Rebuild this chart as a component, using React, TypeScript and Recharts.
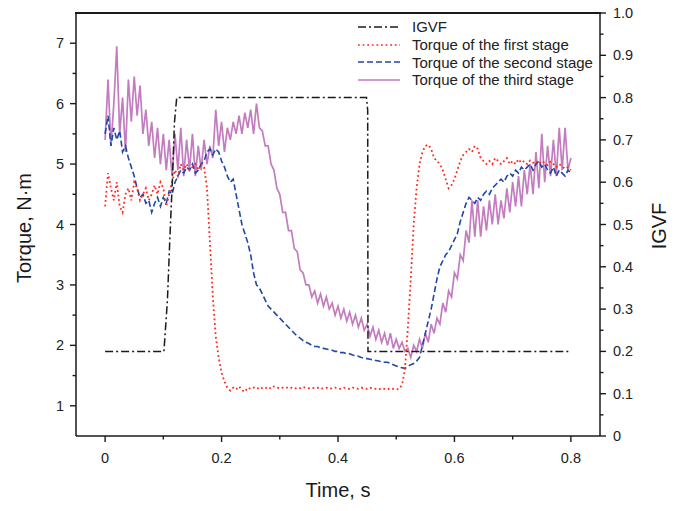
import React from "react";
import { LineChart, Line, XAxis, YAxis } from "recharts";

// time grid, 5 ms step
const time = Array.from({ length: 161 }, (_, i) => Math.round(i * 5) / 1000);

const firstStage = [
  4.3, 4.85, 4.6, 4.4, 4.7, 4.3, 4.2, 4.5, 4.6, 4.4,
  4.7, 4.6, 4.4, 4.5, 4.6, 4.4, 4.5, 4.65, 4.5, 4.7,
  4.6, 4.3, 4.5, 4.7, 4.9, 4.8, 5.0, 4.9, 5.0, 4.9,
  4.95, 5.0, 4.9, 5.0, 4.95, 4.6, 3.7, 2.8, 2.15, 1.8,
  1.55, 1.4, 1.3, 1.25, 1.3, 1.27, 1.32, 1.26, 1.23, 1.3,
  1.28, 1.3, 1.31, 1.27, 1.3, 1.29, 1.31, 1.28, 1.32, 1.3,
  1.29, 1.3, 1.31, 1.29, 1.3, 1.28, 1.3, 1.29, 1.31, 1.3,
  1.29, 1.3, 1.29, 1.3, 1.28, 1.29, 1.3, 1.28, 1.29, 1.3,
  1.29, 1.28, 1.3, 1.29, 1.28, 1.3, 1.29, 1.28, 1.3, 1.29,
  1.28, 1.3, 1.29, 1.28, 1.27, 1.29, 1.28, 1.27, 1.29, 1.28,
  1.27, 1.28, 1.35, 1.6, 2.3, 3.1, 4.0, 4.6, 5.0, 5.2,
  5.3, 5.32, 5.25, 5.1, 5.05, 5.0, 4.9, 4.75, 4.6, 4.65,
  4.75, 4.9, 5.05, 5.15, 5.2, 5.25, 5.2, 5.3, 5.25, 5.1,
  5.05, 5.0, 5.05, 5.0, 5.1, 5.05, 5.0, 5.05, 5.1, 5.0,
  5.05, 5.0, 5.08, 5.02, 5.05, 5.0, 5.06, 5.02, 5.05, 5.0,
  5.05, 5.02, 4.98, 5.04, 5.0, 4.95, 5.0, 4.96, 4.92, 4.95,
  4.9,
];

const secondStage = [
  5.5, 5.8, 5.3, 5.6, 5.4, 5.55, 5.2, 5.3, 5.1, 4.95,
  4.8, 4.6, 4.45, 4.5, 4.35, 4.4, 4.2, 4.35, 4.45, 4.3,
  4.45, 4.35, 4.55, 4.5, 4.7, 4.8, 4.9, 4.85, 4.95, 4.9,
  5.0, 4.85, 4.9, 5.0, 5.05, 5.2, 5.25, 5.15, 5.25, 5.2,
  5.05, 4.95, 4.8, 4.7, 4.75, 4.5, 4.25, 4.0, 3.85, 3.7,
  3.5, 3.2, 3.0, 2.95, 2.85, 2.75, 2.65, 2.6, 2.55, 2.5,
  2.45, 2.4, 2.35, 2.3, 2.25, 2.2, 2.15, 2.12, 2.08, 2.05,
  2.03, 2.0, 1.98, 1.98, 1.96, 1.95, 1.94, 1.93, 1.92, 1.9,
  1.9, 1.88, 1.88, 1.86, 1.86, 1.84, 1.83, 1.82, 1.8, 1.79,
  1.78, 1.77, 1.76, 1.75, 1.74, 1.73, 1.72, 1.72, 1.7, 1.68,
  1.66, 1.64, 1.63, 1.62, 1.65, 1.68, 1.7, 1.74, 1.8, 2.0,
  2.2, 2.4, 2.6, 2.85, 3.1, 3.3, 3.4, 3.5, 3.55, 3.65,
  3.75, 3.85, 4.05, 4.2, 4.35, 4.45, 4.4, 4.35, 4.45, 4.4,
  4.5, 4.55, 4.5, 4.6, 4.65, 4.7, 4.75, 4.7, 4.8, 4.85,
  4.8, 4.9, 4.85, 4.95, 4.9, 4.95, 5.0, 4.9, 5.0, 5.05,
  4.95, 5.0, 4.9, 4.85, 4.95, 4.8, 4.9, 4.85, 4.8, 4.9,
  4.85,
];

const thirdStage = [
  5.4, 6.4, 5.3, 6.0, 6.95, 5.5, 6.1, 5.2, 6.4, 5.7,
  6.45, 5.8, 6.3, 5.5, 5.9, 5.3, 5.7, 5.1, 5.6, 5.0,
  5.5, 4.9, 5.4, 4.8, 5.5, 4.9, 5.6, 4.8, 5.4, 4.9,
  5.5, 4.8, 5.3, 4.9, 5.4, 5.0, 5.3, 5.1, 5.9, 5.3,
  5.7, 5.2, 5.6, 5.4, 5.7, 5.5, 5.8, 5.5, 5.85, 5.6,
  5.9, 5.5, 6.0, 5.6, 5.55, 5.3, 5.3, 5.0, 4.9, 4.6,
  4.5, 4.2, 4.2, 3.9, 3.9, 3.6, 3.55, 3.25, 3.2, 3.0,
  3.0, 2.8, 2.9, 2.7, 2.85, 2.65, 2.8, 2.6, 2.7, 2.5,
  2.65, 2.45, 2.6, 2.4, 2.55, 2.35, 2.5, 2.3, 2.45, 2.25,
  2.35, 2.15, 2.3, 2.1, 2.25, 2.05, 2.2, 2.0, 2.2, 1.95,
  2.1, 1.95, 2.05, 1.9, 1.95, 1.8, 2.0, 1.9, 2.1, 1.95,
  2.2, 2.05, 2.35, 2.2, 2.45, 2.35, 2.7, 2.55, 2.9, 2.8,
  3.2, 3.1, 3.5, 3.4, 3.9, 3.7, 4.4, 3.8, 4.4, 3.8,
  4.3, 3.9, 4.4, 4.0, 4.5, 4.0, 4.4, 4.1, 4.6, 4.2,
  4.7, 4.3, 4.8, 4.3, 4.9, 4.5, 5.0, 4.5, 5.2, 4.6,
  5.5, 4.7, 5.3, 4.8, 5.4, 4.8, 5.6, 4.9, 5.6, 4.9,
  5.1,
];

const igvfTime = [0, 0.101, 0.107, 0.111, 0.116, 0.119, 0.123, 0.449, 0.451, 0.4515, 0.8];
const igvfValue = [0.2, 0.2, 0.32, 0.46, 0.62, 0.74, 0.8, 0.8, 0.77, 0.2, 0.2];

const xTicks = [0, 0.1, 0.2, 0.3, 0.4, 0.5, 0.6, 0.7, 0.8];
const torqueTicks = [1, 1.5, 2, 2.5, 3, 3.5, 4, 4.5, 5, 5.5, 6, 6.5, 7];
const igvfTicks = [
  0, 0.05, 0.1, 0.15, 0.2, 0.25, 0.3, 0.35, 0.4, 0.45, 0.5,
  0.55, 0.6, 0.65, 0.7, 0.75, 0.8, 0.85, 0.9, 0.95, 1.0,
];

const torqueData = time.map((t, i) => ({
  t,
  first: firstStage[i],
  second: secondStage[i],
  third: thirdStage[i],
}));
const igvfData = igvfTime.map((t, i) => ({ t, igvf: igvfValue[i] }));

const FONT = "'Liberation Sans', Arial, sans-serif";
const INK = "#1a1a1a";
const TXT = "#222";

const C_IGVF = "#1a1a1a";
const C_FIRST = "#ff2a1f";
const C_SECOND = "#1f47a8";
const C_THIRD = "#c27cbf";

const DASH_IGVF = "8 3 2 3";
const DASH_FIRST = "1.8 2.8";
const DASH_SECOND = "6 3";

function XTick(props: any) {
  const { x, y, payload } = props;
  const v = payload.value;
  const major = Math.round(v * 10) % 2 === 0;
  return (
    <g>
      <line x1={x} y1={y} x2={x} y2={y + (major ? 6 : 3.5)} stroke={INK} strokeWidth={1.4} />
      {major && (
        <text x={x} y={y + 27} textAnchor="middle" fontSize={14.5} fontFamily={FONT} fill={TXT}>
          {v === 0 ? "0" : v.toFixed(1)}
        </text>
      )}
    </g>
  );
}

function LeftTick(props: any) {
  const { x, y, payload } = props;
  const v = payload.value;
  const major = Number.isInteger(v);
  return (
    <g>
      <line x1={x} y1={y} x2={x - (major ? 6 : 3.5)} y2={y} stroke={INK} strokeWidth={1.4} />
      {major && (
        <text x={x - 12} y={y + 5} textAnchor="end" fontSize={14.5} fontFamily={FONT} fill={TXT}>
          {v}
        </text>
      )}
    </g>
  );
}

function RightTick(props: any) {
  const { x, y, payload } = props;
  const v = payload.value;
  const major = Math.round(v * 100) % 10 === 0;
  return (
    <g>
      <line x1={x} y1={y} x2={x + (major ? 6 : 3.5)} y2={y} stroke={INK} strokeWidth={1.4} />
      {major && (
        <text x={x + 13} y={y + 5} textAnchor="start" fontSize={14.5} fontFamily={FONT} fill={TXT}>
          {v === 0 ? "0" : v.toFixed(1)}
        </text>
      )}
    </g>
  );
}

// axis title; own prop names so Recharts' cloned label props don't override them
function Title({ cx, cy, rot, text }: { cx: number; cy: number; rot: number; text: string }) {
  return (
    <text
      x={cx}
      y={cy}
      transform={rot ? `rotate(${rot} ${cx} ${cy})` : undefined}
      textAnchor="middle"
      dominantBaseline="central"
      fontSize={20}
      fontFamily={FONT}
      fill={INK}
    >
      {text}
    </text>
  );
}

const legendItems = [
  { name: "IGVF", color: C_IGVF, dash: DASH_IGVF },
  { name: "Torque of the first stage", color: C_FIRST, dash: DASH_FIRST },
  { name: "Torque of the second stage", color: C_SECOND, dash: DASH_SECOND },
  { name: "Torque of the third stage", color: C_THIRD, dash: undefined },
];

function LegendBox() {
  return (
    <div style={{ position: "absolute", left: 356, top: 18, fontFamily: FONT, fontSize: 15, color: TXT }}>
      {legendItems.map((it) => (
        <div key={it.name} style={{ display: "flex", alignItems: "center", height: 17.8 }}>
          <svg width={46} height={10} style={{ marginRight: 10 }}>
            <line x1={2} y1={5} x2={44} y2={5} stroke={it.color} strokeWidth={1.6} strokeDasharray={it.dash} />
          </svg>
          <span style={{ whiteSpace: "nowrap", lineHeight: "17.8px" }}>{it.name}</span>
        </div>
      ))}
    </div>
  );
}

export default function App() {
  return (
    <div style={{ position: "absolute", left: 0, top: 0, width: 683, height: 511, background: "#fff" }}>
      <LineChart width={683} height={511} margin={{ top: 13, right: 0, bottom: 0, left: 0 }}>
        <XAxis
          xAxisId="x"
          dataKey="t"
          type="number"
          domain={[-0.05, 0.85]}
          ticks={xTicks}
          interval={0}
          height={75}
          tickSize={0}
          tickMargin={0}
          tickLine={false}
          axisLine={{ stroke: INK, strokeWidth: 1.5 }}
          tick={(p: any) => <XTick {...p} />}
          allowDataOverflow
          label={<Title cx={338} cy={490} rot={0} text="Time, s" />}
        />
        <YAxis
          yAxisId="left"
          type="number"
          domain={[0.5, 7.5]}
          ticks={torqueTicks}
          interval={0}
          width={76}
          tickSize={0}
          tickMargin={0}
          tickLine={false}
          axisLine={{ stroke: INK, strokeWidth: 1.5 }}
          tick={(p: any) => <LeftTick {...p} />}
          allowDataOverflow
          label={<Title cx={24} cy={228} rot={-90} text="Torque, N·m" />}
        />
        <YAxis
          yAxisId="right"
          orientation="right"
          type="number"
          domain={[0, 1]}
          ticks={igvfTicks}
          interval={0}
          width={83}
          tickSize={0}
          tickMargin={0}
          tickLine={false}
          axisLine={{ stroke: INK, strokeWidth: 1.5 }}
          tick={(p: any) => <RightTick {...p} />}
          allowDataOverflow
          label={<Title cx={659} cy={226} rot={-90} text="IGVF" />}
        />
        <Line
          xAxisId="x"
          yAxisId="left"
          data={torqueData}
          dataKey="third"
          type="linear"
          stroke={C_THIRD}
          strokeWidth={1.7}
          dot={false}
          activeDot={false}
          isAnimationActive={false}
        />
        <Line
          xAxisId="x"
          yAxisId="left"
          data={torqueData}
          dataKey="second"
          type="linear"
          stroke={C_SECOND}
          strokeWidth={1.6}
          strokeDasharray={DASH_SECOND}
          dot={false}
          activeDot={false}
          isAnimationActive={false}
        />
        <Line
          xAxisId="x"
          yAxisId="left"
          data={torqueData}
          dataKey="first"
          type="linear"
          stroke={C_FIRST}
          strokeWidth={1.8}
          strokeDasharray={DASH_FIRST}
          dot={false}
          activeDot={false}
          isAnimationActive={false}
        />
        <Line
          xAxisId="x"
          yAxisId="right"
          data={igvfData}
          dataKey="igvf"
          type="linear"
          stroke={C_IGVF}
          strokeWidth={1.5}
          strokeDasharray={DASH_IGVF}
          dot={false}
          activeDot={false}
          isAnimationActive={false}
        />
      </LineChart>
      {/* top edge of the plot frame */}
      <div style={{ position: "absolute", left: 75, top: 12, width: 526, height: 2, background: INK, zIndex: 5 }} />
      <LegendBox />
    </div>
  );
}
